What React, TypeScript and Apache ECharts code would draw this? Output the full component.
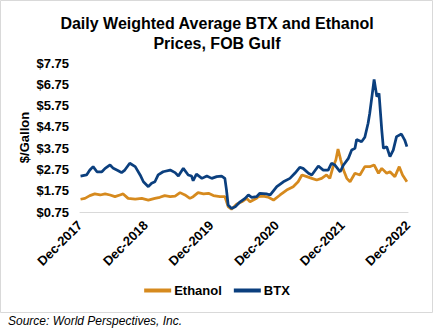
import React, { useEffect, useRef } from "react";
import * as echarts from "echarts";

// Month offsets from Dec-2017 (0 = Dec-2017, 60 = Dec-2022)
const btxMonths = [0.1, 1.2, 1.8, 2.4, 3.1, 4.0, 4.6, 5.5, 6.1, 7.0, 7.6, 8.2, 9.1, 10.1, 11.0, 11.6, 12.5, 13.1, 13.7, 14.3, 15.2, 16.5, 17.4, 18.0, 18.9, 19.8, 20.4, 20.7, 21.3, 22.3, 23.2, 24.1, 25.0, 25.9, 26.5, 26.8, 27.1, 27.7, 28.4, 29.3, 30.2, 30.8, 31.4, 32.3, 32.9, 34.1, 34.8, 36.0, 37.2, 38.4, 39.3, 40.2, 40.8, 41.8, 42.4, 43.6, 44.5, 45.4, 46.0, 46.6, 47.6, 48.2, 49.1, 49.7, 50.3, 50.6, 51.5, 52.1, 52.7, 53.0, 53.4, 53.8, 54.3, 54.7, 55.2, 55.5, 56.1, 56.7, 57.3, 57.9, 58.8, 59.4, 59.8];
const btxPrices = [2.44, 2.49, 2.72, 2.88, 2.64, 2.64, 2.8, 2.96, 2.8, 2.69, 2.6, 2.72, 3.04, 2.88, 2.49, 2.17, 1.94, 2.1, 2.17, 2.49, 2.64, 2.72, 2.6, 2.44, 2.8, 2.49, 2.44, 2.22, 2.53, 2.33, 2.44, 2.33, 2.41, 2.44, 2.33, 1.78, 1.08, 0.92, 1.0, 1.23, 1.39, 1.55, 1.44, 1.47, 1.63, 1.6, 1.55, 1.94, 2.17, 2.33, 2.57, 2.85, 2.8, 2.57, 2.49, 2.91, 2.72, 2.72, 3.04, 2.96, 2.64, 2.96, 3.27, 3.66, 3.74, 4.16, 4.05, 4.26, 4.92, 5.39, 6.17, 6.98, 6.17, 6.32, 4.6, 3.74, 3.82, 3.35, 3.66, 4.29, 4.41, 4.13, 3.82];

const ethanolMonths = [0.1, 0.9, 1.8, 2.7, 3.7, 4.6, 5.5, 6.4, 7.3, 7.9, 8.8, 10.1, 11.3, 12.5, 13.7, 14.6, 15.5, 16.5, 17.4, 18.3, 19.2, 20.1, 20.7, 21.6, 22.6, 23.5, 24.4, 25.6, 26.5, 27.1, 27.7, 28.7, 29.6, 30.5, 31.1, 31.7, 32.3, 32.6, 33.5, 34.4, 35.4, 36.6, 37.8, 39.0, 39.9, 40.6, 41.5, 42.4, 43.3, 44.2, 45.1, 45.7, 46.3, 46.8, 47.2, 47.7, 48.2, 48.8, 49.4, 50.3, 51.2, 52.1, 53.0, 53.8, 54.6, 55.2, 56.1, 56.7, 57.6, 58.4, 59.0, 59.8];
const ethanolPrices = [1.35, 1.39, 1.52, 1.6, 1.55, 1.6, 1.55, 1.47, 1.55, 1.6, 1.39, 1.36, 1.39, 1.31, 1.39, 1.44, 1.52, 1.47, 1.5, 1.66, 1.55, 1.39, 1.47, 1.66, 1.6, 1.63, 1.52, 1.47, 1.47, 1.0, 0.88, 1.13, 1.23, 1.39, 1.23, 1.31, 1.39, 1.47, 1.5, 1.45, 1.31, 1.55, 1.78, 1.94, 2.17, 2.49, 2.41, 2.33, 2.25, 2.33, 2.49, 2.33, 2.88, 3.19, 3.71, 3.19, 2.72, 2.33, 2.17, 2.57, 2.49, 2.88, 2.88, 2.96, 2.57, 2.8, 2.57, 2.64, 2.41, 2.88, 2.49, 2.17];

const tickYears = [2017, 2018, 2019, 2020, 2021, 2022];

const FONT = "'Liberation Sans', Arial, sans-serif";

export default function App() {
  const ref = useRef<HTMLDivElement>(null);
  useEffect(() => {
    if (!ref.current) return;
    const chart = echarts.init(ref.current, undefined, { renderer: "svg" });
    const btx = btxMonths.map((m, i) => [m, btxPrices[i]]);
    const eth = ethanolMonths.map((m, i) => [m, ethanolPrices[i]]);
    chart.setOption({
      animation: false,
      backgroundColor: "#ffffff",
      title: {
        text: "Daily Weighted Average BTX and Ethanol\nPrices, FOB Gulf",
        left: "center",
        top: 8,
        textStyle: { fontFamily: FONT, fontSize: 16, fontWeight: "bold", color: "#000", lineHeight: 20 },
      },
      legend: {
        bottom: 28,
        left: "center",
        icon: "rect",
        itemWidth: 27,
        itemHeight: 4,
        itemGap: 12,
        textStyle: { fontFamily: FONT, fontSize: 13, fontWeight: "bold", color: "#000", padding: [0, 0, 0, -2] },
        data: ["Ethanol", "BTX"],
      },
      grid: { left: 80, right: 26, top: 63, bottom: 118, containLabel: false },
      xAxis: {
        type: "value",
        min: 0,
        max: 60,
        interval: 12,
        axisLine: { show: true, lineStyle: { color: "#d9d9d9", width: 1 } },
        axisTick: { show: false },
        splitLine: { show: false },
        axisLabel: {
          rotate: 45,
          margin: 11,
          fontFamily: FONT,
          fontSize: 13,
          fontWeight: "bold",
          color: "#000",
          formatter: (v: number) => {
            const idx = Math.round(v / 12);
            return "Dec-" + tickYears[idx];
          },
        },
      },
      yAxis: {
        type: "value",
        min: 0.75,
        max: 7.75,
        interval: 1,
        name: "$/Gallon",
        nameLocation: "middle",
        nameGap: 49,
        nameMoveOverlap: false,
        nameRotate: 90,
        nameTextStyle: { fontFamily: FONT, fontSize: 13, fontWeight: "bold", color: "#000" },
        axisLine: { show: false },
        axisTick: { show: false },
        splitLine: { show: false },
        axisLabel: {
          margin: 11,
          fontFamily: FONT,
          fontSize: 13,
          fontWeight: "bold",
          color: "#000",
          formatter: (v: number) => "$" + v.toFixed(2),
        },
      },
      series: [
        {
          name: "Ethanol",
          type: "line",
          data: eth,
          showSymbol: false,
          color: "#D68A1E",
          lineStyle: { width: 2.75, color: "#D68A1E" },
        },
        {
          name: "BTX",
          type: "line",
          data: btx,
          showSymbol: false,
          color: "#0B3F7E",
          lineStyle: { width: 2.75, color: "#0B3F7E" },
        },
      ],
      graphic: [
        {
          type: "rect",
          shape: { x: 0.5, y: 0.5, width: 432, height: 312 },
          style: { fill: "none", stroke: "#d9d9d9", lineWidth: 1 },
          silent: true,
        },
        {
          type: "text",
          left: 8,
          top: 315,
          style: {
            text: "Source: World Perspectives, Inc.",
            fontFamily: FONT,
            fontSize: 12,
            fontStyle: "italic",
            fill: "#000",
          },
        },
      ],
    });
    return () => chart.dispose();
  }, []);
  return (
    <div
      ref={ref}
      style={{ position: "absolute", left: 0, top: 0, width: 434, height: 330 }}
    />
  );
}
